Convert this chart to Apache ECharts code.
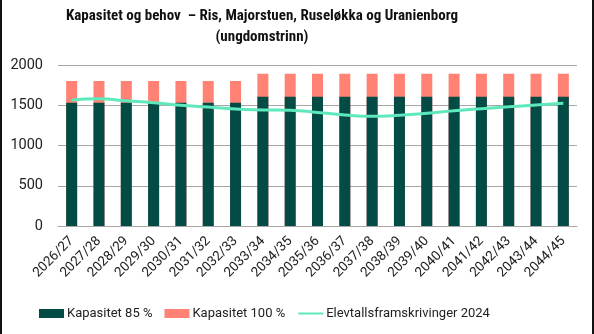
<!DOCTYPE html>
<html>
<head>
<meta charset="utf-8">
<script src="https://cdn.jsdelivr.net/npm/echarts@6/dist/echarts.min.js"></script>
<style>
  html, body { margin: 0; padding: 0; background: #fff; }
  #chart { width: 594px; height: 334px; }
</style>
</head>
<body>
<div id="chart"></div>
<script>
// School years on the x axis
const years = ['2026/27', '2027/28', '2028/29', '2029/30', '2030/31', '2031/32', '2032/33',
  '2033/34', '2034/35', '2035/36', '2036/37', '2037/38', '2038/39', '2039/40', '2040/41',
  '2041/42', '2042/43', '2043/44', '2044/45'];

// Capacity at 85 % utilisation
const capacity85 = [1530, 1530, 1530, 1530, 1530, 1530, 1530,
  1607, 1607, 1607, 1607, 1607, 1607, 1607, 1607, 1607, 1607, 1607, 1607];

// Full capacity (100 %)
const capacity100 = [1800, 1800, 1800, 1800, 1800, 1800, 1800,
  1890, 1890, 1890, 1890, 1890, 1890, 1890, 1890, 1890, 1890, 1890, 1890];

// Pupil projections 2024
const projection = [1565, 1580, 1555, 1530, 1500, 1478, 1452, 1442, 1438, 1410, 1380,
  1362, 1375, 1400, 1433, 1458, 1480, 1503, 1525];

const yTicks = [0, 500, 1000, 1500, 2000];

const chart = echarts.init(document.getElementById('chart'), null, { renderer: 'canvas' });

const fontTitle = "'Roboto Condensed', 'DejaVu Sans Condensed', sans-serif";
const fontAxis = "Roboto, 'Noto Sans', sans-serif";
const titleStyle = {
  fontFamily: fontTitle,
  fontWeight: 'bold',
  fontSize: 15,
  color: '#111'
};

chart.setOption({
  backgroundColor: '#ffffff',
  animation: false,
  title: [
    {
      text: 'Kapasitet og behov  – Ris, Majorstuen, Ruseløkka og Uranienborg',
      left: 262, textAlign: 'center', top: 9, padding: 0,
      textStyle: titleStyle
    },
    {
      text: '(ungdomstrinn)',
      left: 262, textAlign: 'center', top: 30, padding: 0,
      textStyle: titleStyle
    }
  ],
  legend: {
    top: 302,
    left: 34,
    itemWidth: 25,
    itemHeight: 9,
    itemGap: 12,
    data: [
      { name: 'Kapasitet 85 %', icon: 'rect' },
      { name: 'Kapasitet 100 %', icon: 'rect' },
      { name: 'Elevtallsframskrivinger 2024', itemStyle: { opacity: 0 } }
    ],
    textStyle: { fontFamily: fontAxis, fontSize: 13, color: '#222', padding: [0, 0, 0, -2] }
  },
  grid: { left: 58, right: 17, top: 65, bottom: 108 },
  xAxis: {
    type: 'category',
    data: years,
    axisTick: { show: false },
    axisLine: { lineStyle: { color: '#a6a6a6', width: 1 } },
    axisLabel: {
      rotate: 45,
      interval: 0,
      margin: 13,
      fontFamily: fontAxis,
      fontSize: 13.5,
      color: '#222'
    }
  },
  yAxis: {
    type: 'value',
    min: yTicks[0],
    max: yTicks[yTicks.length - 1],
    interval: 500,
    axisLine: { show: false },
    axisTick: { show: false },
    splitLine: { lineStyle: { color: '#a6a6a6', width: 1 } },
    axisLabel: {
      fontFamily: fontAxis, fontSize: 14.5, color: '#222', margin: 15,
      formatter: v => String(v)
    }
  },
  series: [
    {
      name: 'Kapasitet 100 %',
      type: 'bar',
      data: capacity100,
      barWidth: 11,
      itemStyle: { color: '#ff8274' },
      z: 2
    },
    {
      name: 'Kapasitet 85 %',
      type: 'bar',
      data: capacity85,
      barWidth: 11,
      barGap: '-100%',
      itemStyle: { color: '#034b45' },
      z: 3
    },
    {
      name: 'Elevtallsframskrivinger 2024',
      type: 'line',
      data: projection,
      smooth: 0.5,
      symbol: 'none',
      lineStyle: { color: '#5ee8bb', width: 3 },
      itemStyle: { color: '#5ee8bb' },
      z: 4
    }
  ],
  graphic: [
    { type: 'rect', left: 0, top: 0, shape: { width: 2, height: 334 }, style: { fill: '#111' } },
    { type: 'rect', right: 0, top: 0, shape: { width: 2, height: 334 }, style: { fill: '#111' } }
  ]
});
</script>
</body>
</html>
